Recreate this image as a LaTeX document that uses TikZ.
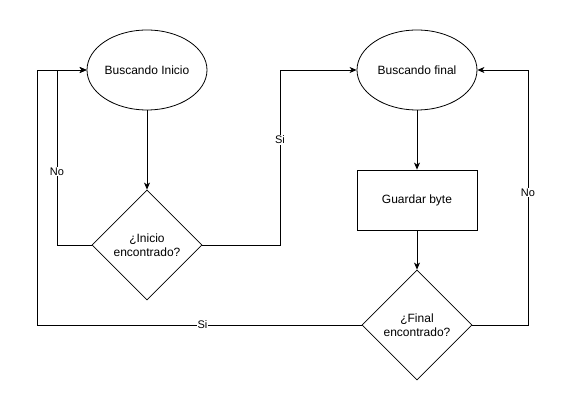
\documentclass[tikz,border=0pt]{standalone}
\usepackage{fontspec}
\setmainfont{Liberation Sans}
\usetikzlibrary{shapes.geometric,arrows.meta}
\begin{document}
\begin{tikzpicture}[x=1pt,y=-1pt,
  every node/.style={font=\fontsize{12}{14}\selectfont},
  stateell/.style={draw,ellipse,minimum width=120pt,minimum height=80pt,inner sep=0pt},
  decision/.style={draw,diamond,minimum width=110pt,minimum height=110pt,aspect=1,inner sep=0pt,align=center},
  procbox/.style={draw,rectangle,minimum width=120pt,minimum height=60pt,inner sep=0pt},
  conn/.style={line width=0.8pt,-{Stealth[length=7pt,width=6pt,inset=2pt]}},
  lbl/.style={fill=white,inner sep=1pt,font=\fontsize{11}{13}\selectfont}]
\useasboundingbox (0,0) rectangle (566,411);
\node[stateell,line width=0.8pt] (e1) at (147,70) {Buscando Inicio};
\node[stateell,line width=0.8pt] (e2) at (417,70) {Buscando final};
\node[decision,line width=0.8pt] (d1) at (147,245) {¿Inicio\\encontrado?};
\node[procbox,line width=0.8pt] (r1) at (417,200) {Guardar byte};
\node[decision,line width=0.8pt] (d2) at (417,325) {¿Final\\encontrado?};
\coordinate (a1) at (57,245);
\coordinate (a2) at (57,70);
\coordinate (b1) at (280,245);
\coordinate (b2) at (280,70);
\coordinate (c1) at (528,325);
\coordinate (c2) at (528,70);
\coordinate (f1) at (37,325);
\coordinate (f2) at (37,70);
\draw[conn] (e1) -- (d1);
\draw[conn] (e2) -- (r1);
\draw[conn] (r1) -- (d2);
\draw[conn] (d1.west) -- (a1) -- node[lbl,pos=0.42]{No} (a2) -- (e1.west);
\draw[conn] (d1.east) -- (b1) -- node[lbl,pos=0.6]{Si} (b2) -- (e2.west);
\draw[conn] (d2.east) -- (c1) -- node[lbl,pos=0.52]{No} (c2) -- (e2.east);
\draw[conn] (d2.west) -- node[lbl,pos=0.49]{Si} (f1) -- (f2) -- (e1.west);
\end{tikzpicture}
\end{document}
